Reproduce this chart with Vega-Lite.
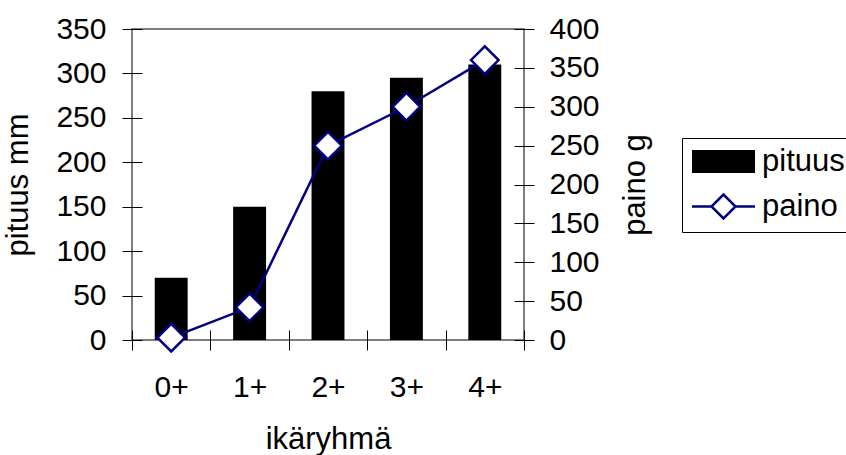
{
  "$schema": "https://vega.github.io/schema/vega-lite/v6.json",
  "width": 392,
  "height": 311,
  "autosize": {"type": "none"},
  "padding": {"left": 132, "top": 29, "right": 322, "bottom": 115},
  "background": "white",
  "data": {
    "values": [
      {"ika": "0+", "pituus": 70, "paino": 3},
      {"ika": "1+", "pituus": 150, "paino": 42},
      {"ika": "2+", "pituus": 280, "paino": 250},
      {"ika": "3+", "pituus": 295, "paino": 300},
      {"ika": "4+", "pituus": 310, "paino": 360}
    ]
  },
  "config": {
    "font": "Liberation Sans",
    "view": {"stroke": "#555555", "strokeWidth": 1.5},
    "axis": {
      "labelFont": "Liberation Sans",
      "titleFont": "Liberation Sans",
      "labelFontSize": 30,
      "titleFontSize": 31,
      "titleFontWeight": "normal",
      "labelColor": "black",
      "titleColor": "black",
      "tickColor": "black",
      "tickWidth": 1,
      "tickSize": 20,
      "offset": -10,
      "domain": false,
      "grid": false
    },
    "legend": {
      "labelFont": "Liberation Sans",
      "labelFontSize": 31,
      "labelColor": "black"
    }
  },
  "encoding": {
    "x": {
      "field": "ika",
      "type": "nominal",
      "sort": null,
      "scale": {"paddingInner": 0, "paddingOuter": 0},
      "axis": {
        "title": "ikäryhmä",
        "labelAngle": 0,
        "tickBand": "extent",
        "labelPadding": 22,
        "titlePadding": 22
      }
    }
  },
  "layer": [
    {
      "mark": {"type": "bar", "width": {"band": 0.42}, "color": "black"},
      "encoding": {
        "y": {
          "field": "pituus",
          "type": "quantitative",
          "scale": {"domain": [0, 350], "nice": false},
          "axis": {
            "title": "pituus mm",
            "orient": "left",
            "values": [0, 50, 100, 150, 200, 250, 300, 350],
            "labelPadding": 16,
            "titlePadding": 21
          }
        }
      }
    },
    {
      "encoding": {
        "y": {
          "field": "paino",
          "type": "quantitative",
          "scale": {"domain": [0, 400], "nice": false},
          "axis": {
            "title": "paino g",
            "orient": "right",
            "values": [0, 50, 100, 150, 200, 250, 300, 350, 400],
            "labelPadding": 15,
            "titleAngle": 270,
            "titleBaseline": "top",
            "titlePadding": 21
          }
        }
      },
      "layer": [
        {
          "mark": {"type": "line", "strokeWidth": 2.5},
          "encoding": {
            "color": {
              "datum": "paino",
              "type": "nominal",
              "scale": {"domain": ["pituus", "paino"], "range": ["black", "#000080"]},
              "legend": {
                "title": null,
                "orient": "none",
                "legendX": 550,
                "legendY": 109,
                "strokeColor": "black",
                "fillColor": "white",
                "padding": 8,
                "symbolSize": 576,
                "symbolStrokeWidth": 2.5,
                "symbolOffset": 18,
                "labelOffset": 23,
                "rowPadding": 12,
                "encode": {
                  "symbols": {
                    "update": {
                      "shape": {"signal": "datum.value === 'pituus' ? 'M-2.625,-0.958H2.625V0.958H-2.625Z' : 'M-2.625,0H-1M-1,0L0,-1L1,0L0,1ZM1,0H2.625'"},
                      "fill": {"signal": "datum.value === 'pituus' ? 'black' : 'white'"},
                      "stroke": {"signal": "datum.value === 'pituus' ? 'black' : '#000080'"},
                      "strokeWidth": {"signal": "datum.value === 'pituus' ? 0 : 2.5"},
                      "opacity": {"value": 1}
                    }
                  }
                }
              }
            }
          }
        },
        {
          "mark": {"type": "point", "shape": "diamond", "filled": true, "fill": "white", "stroke": "#000080", "strokeWidth": 2.5, "size": 760, "opacity": 1}
        }
      ]
    }
  ],
  "resolve": {"scale": {"y": "independent"}}
}
